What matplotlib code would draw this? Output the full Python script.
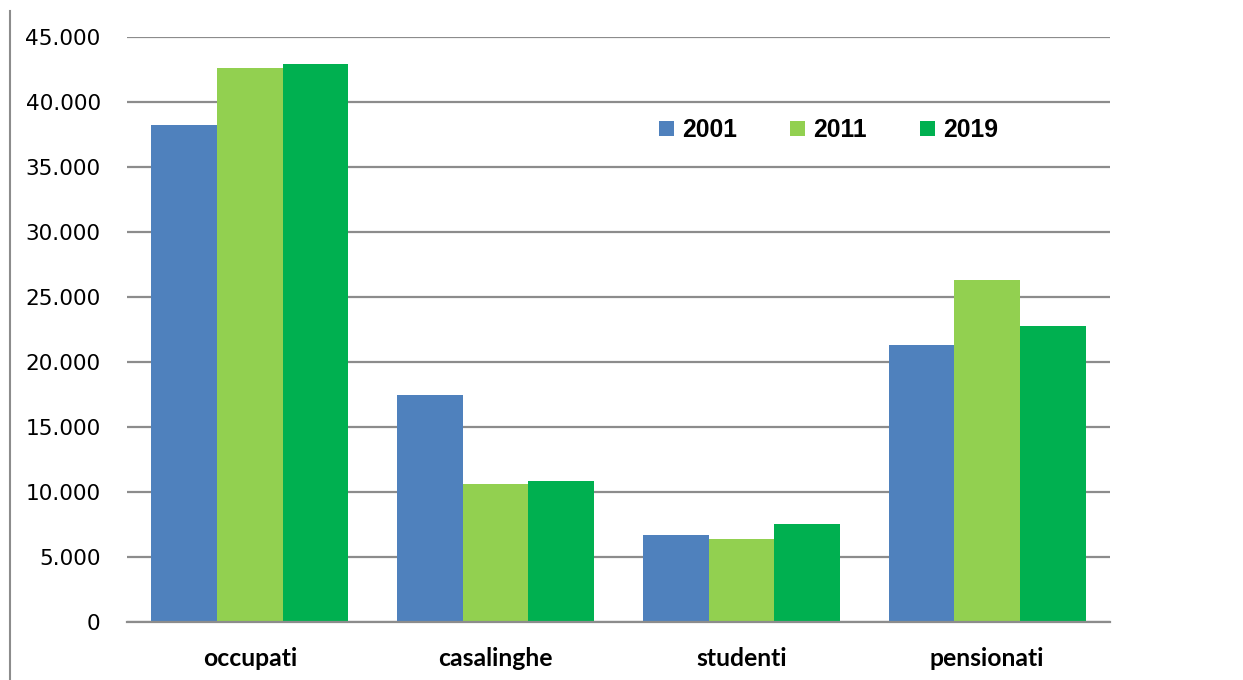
import matplotlib
matplotlib.use("Agg")
import matplotlib.pyplot as plt
from matplotlib.lines import Line2D
import numpy as np

categories = ["occupati", "casalinghe", "studenti", "pensionati"]
years = ["2001", "2011", "2019"]
v2001 = [38200, 17500, 6750, 21350]
v2011 = [42650, 10650, 6430, 26300]
v2019 = [42900, 10900, 7580, 22750]
colors = ["#4F81BD", "#92D050", "#00B050"]
yticks = list(range(0, 45001, 5000))
ytick_labels = ["0" if t == 0 else f"{t//1000}.000" for t in yticks]

fig = plt.figure(figsize=(12.43, 6.8), dpi=100)
ax = fig.add_axes([0.1022, 0.0846, 0.7908, 0.861])

x = np.arange(len(categories))
w = 0.267
series = [v2001, v2011, v2019]
for i, (vals, c, lab) in enumerate(zip(series, colors, years)):
    ax.bar(x + (i - 1) * w, vals, width=w, color=c, label=lab, zorder=3)

ax.set_xlim(-0.5, len(categories) - 0.5)
ax.set_ylim(0, 45000)
ax.set_yticks(yticks)
ax.set_yticklabels(ytick_labels, fontsize=15.6, family="DejaVu Sans")
ax.set_xticks(x)
ax.set_xticklabels(categories, fontsize=17.8, fontweight="bold", family="Lato")
ax.tick_params(axis="y", length=0, pad=19)
ax.tick_params(axis="x", length=0, pad=18)
ax.grid(axis="y", color="#8C8C8C", linewidth=1.6, zorder=0)
for s in ["top", "right", "left"]:
    ax.spines[s].set_visible(False)
ax.spines["bottom"].set_color("#8C8C8C")
ax.spines["bottom"].set_linewidth(1.6)
ax.spines["bottom"].set_zorder(4)

leg = ax.legend(loc="center left", bbox_to_anchor=(0.541, 0.841), ncol=3,
                frameon=False, borderpad=0, borderaxespad=0,
                handlelength=0.6, handleheight=0.53, handletextpad=0.33,
                columnspacing=2.15,
                prop={"family": "Liberation Sans", "weight": "bold", "size": 17.8})

fig.add_artist(Line2D([10 / 1243, 10 / 1243], [0, 1 - 11 / 680],
                      transform=fig.transFigure, color="#8C8C8C", linewidth=1.5))

fig.savefig("out.png", dpi=100, facecolor="white")
